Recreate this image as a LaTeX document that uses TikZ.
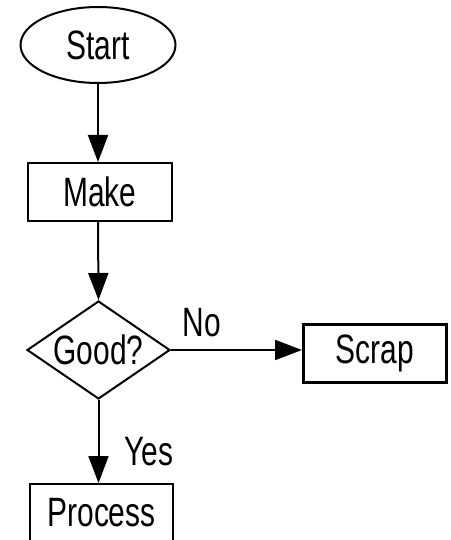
\documentclass[tikz,border=0pt]{standalone}
\usepackage{fontspec}
\setmainfont[FakeStretch=0.73]{Liberation Sans}
\usetikzlibrary{shapes.geometric,arrows.meta}
\begin{document}
\begin{tikzpicture}[x=1pt,y=-1pt,
  every node/.style={font=\fontsize{41}{43}\selectfont, inner sep=0pt},
  boxnode/.style={draw, line width=2pt, minimum width=143pt, minimum height=58pt},
  thickbox/.style={boxnode, line width=3pt},
  startnode/.style={draw, line width=2pt, ellipse, minimum width=155pt, minimum height=76pt},
  decision/.style={draw, line width=2pt, diamond, aspect=1.44, minimum width=143pt, minimum height=98pt},
  flow/.style={line width=2pt, -{Triangle[width=20pt,length=27pt]}},
  lbl/.style={}
]
\fill[white] (0,0) rectangle (450,540);
\useasboundingbox (0,0) rectangle (450,540);

\node[startnode] (start) at (98,45) {Start};
\node[boxnode, minimum width=144pt] (make) at (100,192) {Make};
\node[decision] (good) at (98.5,350) {Good?};
\node[thickbox] (scrap) at (375,353) {Scrap};
\node[boxnode] (process) at (101.5,513) {Process};

\draw[flow] (start.south) -- (start.south |- make.north);
\draw[flow] (start.south |- make.south) -- (good.north);
\draw[flow] (good.east) -- (good.east -| scrap.west);
\draw[flow] (good.south) -- (good.south |- process.north);

\node[lbl] (no) at (202,323) {No};
\node[lbl] (yes) at (149,452) {Yes};
\end{tikzpicture}
\end{document}
